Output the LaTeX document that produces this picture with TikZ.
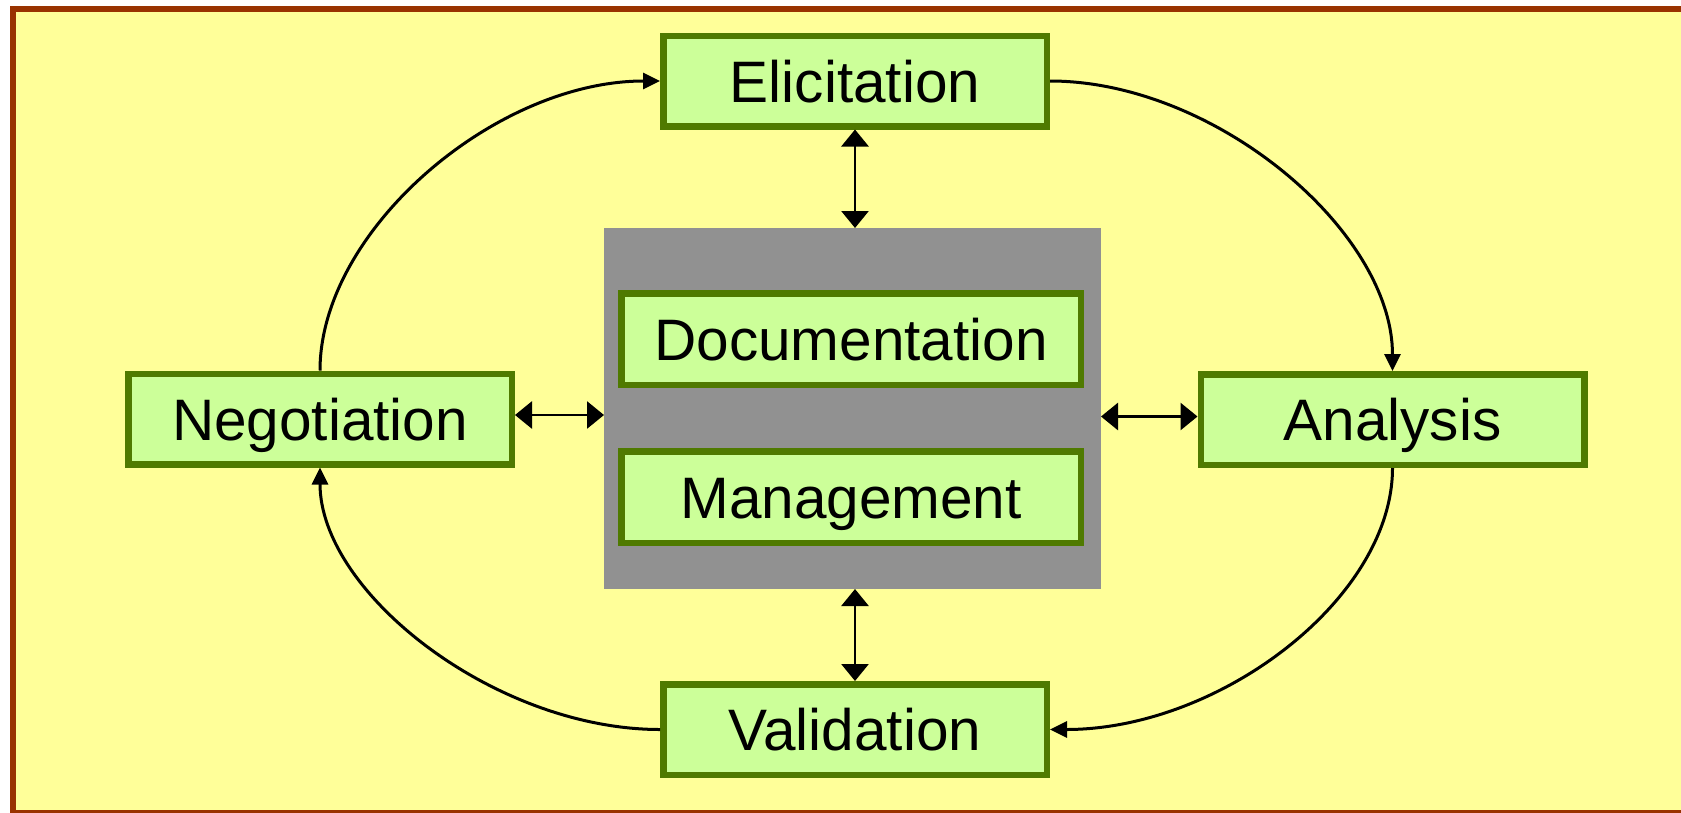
\documentclass[tikz,border=0pt]{standalone}
\usepackage{fontspec}
\setmainfont{Liberation Sans}
\usetikzlibrary{arrows.meta}
\definecolor{bgyellow}{HTML}{FFFF99}
\definecolor{framebrown}{HTML}{993300}
\definecolor{boxfill}{HTML}{CCFF99}
\definecolor{boxline}{HTML}{4F7A00}
\definecolor{grayblock}{HTML}{919191}
\begin{document}
\begin{tikzpicture}[x=1pt,y=-1pt,
  stage/.style={draw=boxline, fill=boxfill, line width=6.5pt, inner sep=0pt,
    minimum width=383.5pt, minimum height=90.5pt,
    text height=42pt, text depth=0pt, font=\fontsize{58.5}{70}\selectfont},
  inner/.style={stage, minimum width=459.5pt, minimum height=91.5pt},
  dbl/.style={{Triangle[length=17pt,width=27pt]}-{Triangle[length=17pt,width=27pt]}, line width=2.8pt},
  cyc/.style={-{Triangle[length=17pt,width=16pt]}, line width=3pt}]
\useasboundingbox (0,0) rectangle (1681,812);
\clip (0,0) rectangle (1681,812);
\fill[white] (0,0) rectangle (1681,812);
\fill[bgyellow] (10,6) rectangle (1700,820);
\fill[framebrown] (10,6) rectangle (1700,12);
\fill[framebrown] (10,6) rectangle (16,820);
\fill[framebrown] (10,810) rectangle (1700,820);

\node[fill=grayblock, minimum width=497pt, minimum height=361pt, inner sep=0pt, outer sep=0pt] (core) at (852.5,408.5) {};
\node[inner] (doc) at (851,339) {Documentation};
\node[inner] (mgmt) at (851,497) {Management};

\node[stage] (elic) at (855,81) {Elicitation};
\node[stage] (val) at (855,729.5) {Validation};
\node[stage] (neg) at (320,419) {Negotiation};
\node[stage] (ana) at (1392.5,419.5) {Analysis};

\draw[dbl] (elic.south) -- (elic.south |- core.north);
\draw[dbl] (core.south -| val.north) -- (val.north);
\draw[dbl] ([yshift=4pt]neg.east) -- ([yshift=4pt]neg.east -| core.west);
\draw[dbl] ([yshift=3pt]ana.west -| core.east) -- ([yshift=3pt]ana.west);

\draw[cyc] (elic.east) .. controls +(165,0) and +(0,-140) .. (ana.north);
\draw[cyc] (ana.south) .. controls +(0,130) and +(170,0) .. (val.east);
\draw[cyc] (val.west) .. controls +(-165,0) and +(0,125) .. (neg.south);
\draw[cyc] (neg.north) .. controls +(0,-140) and +(-165,0) .. (elic.west);
\end{tikzpicture}
\end{document}
